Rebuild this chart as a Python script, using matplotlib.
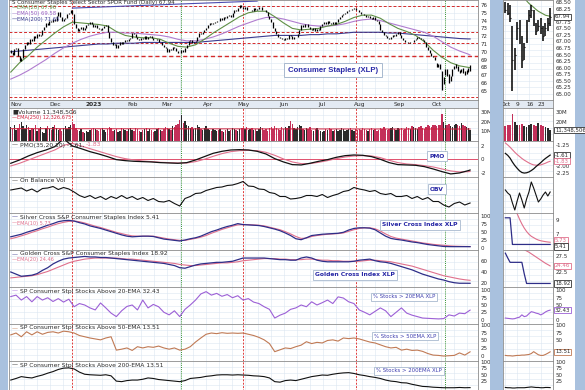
import numpy as np
import pandas as pd
import matplotlib
matplotlib.use('Agg')
import matplotlib.pyplot as plt
from matplotlib.patches import Rectangle

# ------------------------------------------------------------------ data
dates = pd.bdate_range('2022-10-27', '2023-10-27')   # trading-day axis

close_to_sep = [
    70.0, 69.6, 70.3, 70.5, 69.4, 68.8, 69.2, 70.4, 70.9, 71.2,
    71.0, 71.6, 71.4, 72.0, 71.8, 72.3, 72.0, 72.2, 72.8, 73.2,
    73.7, 73.4, 74.0, 73.8, 74.2, 74.0, 74.6, 75.1, 74.5, 74.0,
    74.2, 74.3, 74.8, 75.0, 75.4, 74.9, 73.6, 73.0, 72.7, 72.9,
    73.2, 72.8, 73.0, 73.4, 73.5, 73.8, 73.6, 73.2, 73.4, 73.0,
    72.9, 72.8, 73.1, 73.3, 73.4, 72.6, 71.8, 71.2, 70.9, 71.0,
    70.5, 70.9, 71.2, 71.0, 71.3, 71.5, 71.4, 71.6, 71.8, 72.4,
    72.3, 71.9, 71.6, 71.5, 71.8, 71.6, 72.0, 71.7, 71.9, 72.0,
    71.8, 71.5, 71.5, 71.7, 71.3, 71.3, 70.9, 70.6, 70.5, 70.0,
    70.3, 70.2, 70.6, 70.5, 70.1, 69.9, 69.8, 70.2, 70.0, 70.5,
    70.9, 71.4, 71.5, 71.1, 71.2, 71.4, 71.9, 72.4, 72.3, 72.6,
    72.8, 73.1, 73.4, 73.7, 73.5, 73.7, 73.8, 74.0, 73.9, 74.3,
    74.1, 74.4, 74.3, 74.6, 74.7, 74.5, 75.0, 75.4, 75.2, 75.6,
    76.0, 75.8, 75.5, 75.7, 75.3, 75.4, 75.4, 75.2, 75.6, 75.4,
    75.5, 75.7, 75.8, 75.4, 75.3, 75.1, 74.6, 74.2, 73.8, 73.0,
    72.7, 72.3, 71.9, 71.8, 71.6, 71.5, 71.8, 71.6, 72.2, 72.0,
    71.7, 71.9, 71.9, 72.3, 72.8, 73.4, 73.2, 73.5, 73.6, 73.2,
    72.9, 72.8, 73.0, 72.7, 72.9, 72.8, 73.3, 73.5, 73.8, 73.6,
    73.9, 73.7, 73.5, 73.8, 73.6, 73.8, 74.2, 74.4, 74.7, 74.9,
    75.0, 75.2, 75.4, 75.3, 75.5, 75.6, 75.4, 75.3, 75.1, 74.9,
    74.8, 74.7, 74.5, 74.6, 74.3, 74.2, 74.4, 74.1, 74.0, 73.5,
    72.8, 72.5, 72.2, 72.0, 71.8, 71.7, 71.9, 72.1, 72.0, 72.3,
    72.5, 72.2, 71.8, 71.5, 71.3, 71.2, 71.1, 71.3, 71.2, 71.5,
    71.7, 71.9, 71.8, 71.6, 71.5, 71.2, 70.6, 70.2, 69.8, 69.5,
    69.3, 69.0,
]
oct_close = [68.2, 68.1, 67.9, 66.3, 66.5, 67.5, 67.1, 66.3, 66.8, 67.6,
             68.0, 68.2, 67.8, 67.4, 67.6, 67.5, 67.2, 67.5, 67.7, 67.94]
oct_high = [68.5, 68.45, 68.4, 67.6, 66.75, 67.75, 67.8, 67.2, 66.95, 67.8,
            68.2, 68.4, 68.2, 67.7, 67.8, 67.9, 67.6, 67.7, 67.9, 68.27]
oct_low = [68.1, 68.0, 67.75, 65.1, 65.9, 67.05, 66.9, 66.0, 66.3, 66.95,
           67.75, 67.9, 67.6, 67.25, 67.4, 67.3, 67.0, 67.2, 67.4, 67.6]
close = close_to_sep + oct_close

# weekly samples (every 5 trading days, last point = last day)
ema20_w = [67.4, 68.6, 69.5, 70.6, 71.5, 72.4, 73.2, 73.8, 73.7, 73.6,
           73.5, 73.3, 72.6, 72.1, 71.9, 71.8, 71.8, 71.6, 71.1, 70.7,
           70.6, 70.9, 71.6, 72.4, 73.1, 73.8, 74.5, 75.0, 75.2, 75.2,
           74.5, 73.7, 73.0, 72.8, 72.9, 73.0, 73.3, 73.5, 73.9, 74.4,
           74.7, 74.7, 74.3, 73.6, 73.0, 72.6, 72.1, 71.3, 70.2, 69.3,
           68.6, 68.2, 68.0, 67.96]
ema50_w = [66.5, 67.0, 67.6, 68.3, 69.0, 69.8, 70.5, 71.1, 71.6, 72.0,
           72.3, 72.5, 72.5, 72.4, 72.4, 72.3, 72.2, 72.1, 71.9, 71.6,
           71.4, 71.4, 71.6, 71.9, 72.3, 72.8, 73.3, 73.7, 74.1, 74.4,
           74.4, 74.2, 73.9, 73.6, 73.4, 73.3, 73.3, 73.4, 73.6, 73.9,
           74.1, 74.2, 74.0, 73.7, 73.4, 73.1, 72.8, 72.5, 72.0, 71.3,
           70.6, 70.1, 69.7, 69.58]
ema200_w = [70.0, 70.1, 70.2, 70.3, 70.4, 70.5, 70.6, 70.7, 70.8, 70.9,
            71.0, 71.0, 71.1, 71.1, 71.1, 71.2, 71.2, 71.2, 71.2, 71.2,
            71.2, 71.2, 71.3, 71.4, 71.5, 71.6, 71.7, 71.8, 71.9, 72.0,
            72.1, 72.1, 72.1, 72.1, 72.2, 72.2, 72.3, 72.3, 72.4, 72.5,
            72.5, 72.5, 72.5, 72.4, 72.4, 72.3, 72.2, 72.1, 72.0, 71.9,
            71.8, 71.7, 71.65, 71.65]
oct_ema20 = [69.9, 69.7, 69.5, 69.3, 69.15, 69.0, 68.9, 68.8, 68.65, 68.55,
             68.45, 68.38, 68.3, 68.22, 68.15, 68.1, 68.05, 68.0, 67.98, 67.96]

price_levels = [75.9, 72.5, 71.1, 69.4, 64.25]
trend_x = [35, 140]
trend_y = [75.6, 76.5]

volume_m = [
    14, 12, 16, 11, 13, 18, 20, 15, 12, 17, 14, 11, 13, 12, 16, 10, 12, 14, 9, 8, 13, 15, 12, 11, 14,
    16, 13, 11, 12, 10, 13, 15, 12, 14, 17, 20, 18, 13, 11, 10, 12, 9, 8, 10, 9, 11, 12,
    13, 12, 11, 10, 12, 13, 11, 9, 12, 14, 13, 10, 11, 12, 9, 10, 13, 12, 11, 10, 12, 13,
    11, 10, 13, 12, 10, 9, 11, 12, 13, 10, 12, 11, 9, 10, 12, 13, 11, 10, 12, 14,
    13, 12, 11, 15, 14, 16, 18, 22, 27, 19, 21, 17, 15, 13, 14, 12, 13, 16, 14, 12, 11, 13, 15,
    12, 11, 10, 12, 11, 10, 11, 12, 10, 9, 11, 12, 10, 11, 13, 12, 11, 10, 12, 13,
    13, 12, 14, 11, 12, 13, 11, 12, 10, 12, 14, 13, 11, 12, 10, 13, 14, 12, 15, 13, 12, 11, 14,
    12, 14, 13, 15, 21, 18, 13, 12, 14, 16, 15, 12, 11, 13, 12, 14, 11, 10, 12, 13, 11, 10,
    9, 10, 12, 11, 13, 12, 10, 11, 12, 10, 11, 13, 12, 10, 11, 12, 13, 11, 10, 12, 11,
    12, 11, 13, 12, 11, 10, 12, 13, 11, 12, 10, 11, 13, 12, 14, 12, 11, 12, 13, 14, 12, 11, 13,
    12, 13, 11, 12, 14, 13, 12, 15, 14, 13, 12, 14, 15, 13, 12, 14, 16, 15, 14, 16, 17,
    15, 17, 16, 28, 20, 17, 16, 18, 15, 14, 17, 18, 16, 15, 19, 17, 15, 14, 13, 11.35,
]
vol_ema_x = [0, 65, 130, 195, 261]
vol_ema_m = [12.7, 12.6, 12.5, 12.4, 12.33]

pmo_w = [-0.6, -0.1, 0.5, 1.0, 1.4, 1.9, 3.1, 2.0, 1.6, 1.15,
         0.8, 0.4, -0.05, -0.2, -0.3, -0.35, -0.4, -0.5, -0.55, -0.6,
         -0.5, -0.1, 0.4, 0.9, 1.2, 1.4, 1.45, 1.4, 1.2, 0.8,
         0.1, -0.4, -0.8, -0.85, -0.6, -0.3, -0.05, 0.3, 0.55, 0.65,
         0.6, 0.4, 0.0, -0.5, -0.8, -0.85, -0.9, -1.1, -1.45, -1.85,
         -2.2, -2.05, -1.7, -1.61]
pmo_sig_w = [-1.0, -0.6, -0.1, 0.4, 0.9, 1.4, 2.1, 2.4, 2.0, 1.6,
             1.2, 0.8, 0.4, 0.1, -0.1, -0.25, -0.35, -0.45, -0.5, -0.55,
             -0.55, -0.35, 0.0, 0.45, 0.85, 1.15, 1.3, 1.35, 1.3, 1.05,
             0.6, 0.05, -0.4, -0.65, -0.65, -0.45, -0.2, 0.1, 0.35, 0.5,
             0.55, 0.5, 0.25, -0.15, -0.5, -0.7, -0.8, -0.95, -1.15, -1.45,
             -1.75, -1.9, -1.86, -1.83]
oct_pmo = [-1.55, -1.62, -1.72, -1.86, -1.98, -2.08, -2.17, -2.23, -2.25, -2.24,
           -2.21, -2.16, -2.10, -2.02, -1.95, -1.88, -1.80, -1.73, -1.67, -1.61]
oct_pmo_sig = [-1.18, -1.25, -1.33, -1.42, -1.51, -1.59, -1.66, -1.73, -1.79, -1.84,
               -1.89, -1.93, -1.96, -1.97, -1.97, -1.96, -1.93, -1.90, -1.86, -1.83]

# every 3 trading days
obv_3 = [150, 160, 170, 140, 160, 130, 165, 170, 185, 155,
         175, 160, 130, 95, 75, 95, 65, 85, 55, 85,
         65, 95, 65, 85, 55, 75, 45, 65, 35, 30,
         45, 15, -10, 65, 85, 115, 120, 145, 160, 175,
         180, 195, 200, 215, 235, 190, 185, 160, 155, 125,
         115, 85, 85, 60, 65, 75, 95, 95, 85, 105,
         75, 95, 110, 135, 145, 175, 160, 150, 135, 145,
         115, 105, 115, 85, 85, 95, 65, 85, 55, 75,
         35, 35, 0, -20, 15, 30, 0, 20]
oct_obv = [150, 120, 100, 20, -50, 40, 120, 50, -30, 60,
           130, 230, 170, 100, 30, 60, 100, 130, 90, 130]

silver_3 = [36, 40, 44, 50, 55, 60, 66, 72, 77, 83,
            86, 87, 85, 80, 76, 70, 66, 62, 57, 52,
            47, 42, 38, 36, 37, 38, 38, 37, 33, 29,
            27, 25, 23, 26, 30, 33, 38, 45, 52, 57,
            63, 68, 72, 77, 74, 73, 72, 71, 68, 64,
            60, 55, 48, 40, 30, 27, 33, 40, 42, 44,
            45, 46, 47, 50, 57, 62, 64, 64, 63, 58,
            48, 38, 31, 28, 26, 23, 20, 18, 15, 12,
            10, 8, 6, 5.5, 5.4, 5.4, 5.4, 5.41]
silver_ema_3 = [30, 34, 39, 44, 50, 55, 61, 66, 72, 77,
                81, 84, 85, 83, 79, 74, 69, 65, 60, 55,
                50, 46, 42, 39, 38, 38, 38, 38, 35, 32,
                29, 27, 25, 25, 28, 31, 35, 40, 47, 53,
                59, 64, 69, 73, 74, 74, 73, 72, 70, 66,
                62, 58, 52, 45, 37, 31, 32, 37, 40, 42,
                44, 45, 46, 48, 53, 58, 62, 64, 64, 61,
                54, 45, 37, 32, 29, 26, 23, 20, 17, 15,
                12.5, 11, 9.5, 8, 7, 6.4, 6.0, 5.73]
oct_silver = [9.3, 9.3, 9.3, 5.41, 5.41, 5.41, 5.41, 5.41, 5.41, 5.41,
              5.41, 5.41, 5.41, 5.41, 5.41, 5.41, 5.41, 5.41, 5.41, 5.41]
oct_silver_ema = [13.0, 12.4, 11.8, 11.0, 10.4, 9.9, 9.1, 8.4, 7.8, 7.3,
                  6.9, 6.6, 6.4, 6.2, 6.05, 5.95, 5.88, 5.82, 5.77, 5.73]

golden_3 = [40, 36, 32, 33, 34, 37, 43, 48, 55, 60,
            64, 66, 67, 68, 69, 68, 68, 67, 67, 66,
            65, 64, 63, 62, 61, 60, 59, 58, 57, 56,
            54, 52, 48, 47, 50, 53, 55, 56, 57, 58,
            58, 59, 60, 63, 66, 66, 66, 66, 66, 65,
            64, 63, 63, 62, 62, 66, 68, 66, 62, 60,
            59, 59, 59, 59, 59, 60, 62, 63, 64, 61,
            59, 58, 56, 53, 50, 47, 44, 40, 36, 33,
            30, 27, 25, 22, 20, 19, 19, 18.92]
golden_ema_3 = [29, 30, 31, 32, 33, 35, 38, 41, 45, 49,
                53, 57, 60, 62, 64, 65, 66, 66, 66, 66,
                66, 65, 64, 64, 63, 62, 61, 60, 59, 58,
                57, 56, 54, 53, 52, 52, 53, 54, 55, 56,
                57, 57, 58, 59, 61, 62, 63, 64, 65, 65,
                65, 64, 64, 63, 63, 63, 64, 64, 63, 62,
                62, 61, 61, 60, 60, 60, 60, 61, 62, 62,
                61, 60, 59, 57, 55, 53, 51, 48, 45, 42,
                39, 36, 33, 31, 29, 27, 25.5, 24.46]
oct_golden = [28.5, 27.0, 25.6, 25.6, 25.6, 25.6, 25.6, 25.6, 22.0, 18.92,
              18.92, 18.92, 18.92, 18.92, 18.92, 18.92, 18.92, 18.92, 18.92, 18.92]
oct_golden_ema = [34.0, 33.4, 32.8, 32.2, 31.6, 31.0, 30.5, 30.0, 29.6, 29.2,
                  28.8, 28.3, 27.8, 27.3, 26.8, 26.3, 25.8, 25.3, 24.9, 24.46]

pct20_3 = [79, 84, 67, 79, 61, 79, 67, 75, 62, 72,
           60, 70, 44, 55, 50, 40, 33, 57, 40, 22,
           10, 30, 45, 50, 33, 67, 40, 52, 44, 25,
           16, 30, 10, 35, 50, 67, 88, 96, 84, 90,
           80, 86, 75, 82, 67, 72, 60, 55, 44, 35,
           5, 15, 22, 35, 40, 50, 44, 61, 50, 58,
           67, 55, 78, 74, 61, 55, 33, 25, 16, 28,
           40, 30, 10, 25, 40, 22, 15, 10, 5, 4,
           3, 2, 3, 16, 12, 22, 20, 32.43]
oct_pct20 = [5, 4, 3, 2, 3, 6, 8, 16, 10, 12, 20, 27, 25, 22, 20, 16, 20, 26, 30, 32.43]

pct50_3 = [68, 74, 62, 78, 68, 78, 70, 76, 78, 74,
           80, 78, 74, 66, 62, 58, 55, 52, 58, 62,
           19, 22, 26, 18, 30, 26, 30, 28, 32, 26,
           22, 26, 19, 22, 30, 45, 58, 70, 74, 72,
           75, 73, 74, 73, 74, 70, 66, 60, 52, 40,
           14, 20, 26, 24, 30, 35, 46, 40, 44, 42,
           50, 52, 48, 58, 56, 58, 55, 50, 45, 42,
           36, 30, 26, 28, 19, 22, 18, 19, 15, 8,
           3, 2, 0, 1, 2, 10, 3, 13.51]
oct_pct50 = [2, 1, 1, 0, 1, 2, 2, 3, 3, 4, 5, 8, 14, 9, 4, 2, 2, 5, 9, 13.51]

pct200_3 = [30, 36, 43, 40, 38, 44, 49, 56, 62, 70,
            75, 76, 72, 60, 52, 50, 49, 48, 50, 46,
            26, 24, 28, 30, 30, 33, 38, 36, 32, 30,
            28, 26, 24, 28, 36, 38, 40, 44, 46, 49,
            50, 50, 49, 50, 49, 48, 46, 45, 43, 38,
            24, 22, 28, 30, 28, 33, 38, 43, 46, 49,
            48, 52, 55, 57, 58, 55, 50, 47, 43, 40,
            36, 30, 26, 24, 20, 19, 14, 10, 6, 5,
            3, 2, 1, 1, 1, 2, 1, 1.5]
oct_pct200 = [2, 1, 1, 0, 0, 1, 1, 1, 1, 2, 3, 4, 3, 2, 2, 1, 1, 2, 2, 1.5]

month_labels = ['Nov', 'Dec', '2023', 'Feb', 'Mar', 'Apr', 'May', 'Jun', 'Jul', 'Aug', 'Sep', 'Oct']
oct_day_labels = ['Oct', '9', '16', '23']
oct_day_pos = [0, 5, 10, 15]
event_red = [35, 132, 196]
event_green = [97, 247]

# ------------------------------------------------------------------ layout
W, H = 585, 390
fig = plt.figure(figsize=(W / 100, H / 100), dpi=100)
fig.patch.set_facecolor('white')
renderer = fig.canvas.get_renderer()

def fax(x0, y0, x1, y1):
    return fig.add_axes([x0 / W, 1 - y1 / H, (x1 - x0) / W, (y1 - y0) / H])

def ftext(x, y, s, **kw):
    return fig.text(x / W, 1 - y / H, s, **kw)

BLUE = '#a9c1de'
for (x0, x1) in [(0, 8), (490, 503), (575, 585)]:
    fig.patches.append(Rectangle((x0 / W, 0), (x1 - x0) / W, 1, transform=fig.transFigure,
                                 facecolor=BLUE, edgecolor='none', zorder=0))

N = len(close)
XL = (-1.0, N + 3.5)
XS = (-1.0, 20.2)
MX = (9, 478)
SX = (503, 553)
GRID = '#dce6f1'
TXT = '#2b2b2b'
PINK = '#e0708c'
NAVY = '#2e2e88'

idx = np.arange(N)
ser = pd.Series(np.arange(len(dates)), index=dates)
month_first = ser.groupby([dates.year, dates.month]).first().values[1:]
week_grid = np.arange(0, N + 3, 7.4)

def style(ax, xlim, ylim, ticks, labels, y0, y1, vgrid):
    ax.set_xlim(xlim)
    ax.set_ylim(ylim)
    ax.set_facecolor('white')
    for s in ax.spines.values():
        s.set_color('#8c8c8c')
        s.set_linewidth(0.6)
    ax.set_xticks([])
    ax.yaxis.tick_right()
    ax.set_yticks(ticks)
    ax.set_yticklabels(labels)
    ax.tick_params(axis='y', length=0, labelsize=4, pad=2, colors=TXT)
    n = max(int((y1 - y0) / 6), 2)
    for yy in np.linspace(ylim[0], ylim[1], n + 1)[1:-1]:
        ax.axhline(yy, color=GRID, lw=0.4, zorder=0)
    for xx in vgrid:
        ax.axvline(xx, color=GRID, lw=0.4, zorder=0)

def row(y0, y1, ylim, ticks, labels, sylim=None, sticks=(), slabels=()):
    a = fax(MX[0], y0, MX[1], y1)
    b = fax(SX[0], y0, SX[1], y1)
    style(a, XL, ylim, ticks, labels, y0, y1, week_grid)
    style(b, XS, sylim if sylim else ylim, list(sticks), list(slabels), y0, y1, oct_day_pos)
    for e in event_red:
        a.axvline(e, color='#e03a3a', lw=0.7, ls=(0, (2, 1.5)), zorder=1)
    for e in event_green:
        a.axvline(e, color='#2f8f2f', lw=0.7, ls=(0, (1, 1.2)), zorder=1)
    return a, b

def segs(x, y, parts, size=4.3, weight='normal'):
    for s, c in parts:
        t = ftext(x, y, s, color=c, fontsize=size, va='center', ha='left', weight=weight)
        x += t.get_window_extent(renderer).width

def vbox(x, y, s, ec, fc='white', tc=TXT):
    ftext(x, y, s, fontsize=3.9, color=tc, va='center', ha='left',
          bbox=dict(boxstyle='square,pad=0.12', fc=fc, ec=ec, lw=0.6))

def note(x, y, s, color='#2525a5', weight='bold', size=4.3):
    ftext(x, y, s, fontsize=size, color=color, va='center', ha='center', weight=weight,
          bbox=dict(boxstyle='square,pad=0.35', fc='white', ec='#a8b9cf', lw=0.6))

xw = np.minimum(np.arange(len(ema20_w)) * 5, N - 1)
x3 = np.arange(len(obv_3)) * 3
xo = np.arange(len(oct_close))

# ---------------------------------------------------------------- price
small_price_ticks = [v for v in np.arange(65.0, 68.51, 0.25) if abs(v - 68.0) > 0.01]
pa, pb = row(0, 100, (63.82, 76.64), list(range(65, 77)), [str(v) for v in range(65, 77)],
             (64.77, 68.58), small_price_ticks, ['%.2f' % v for v in small_price_ticks])
for lv in price_levels:
    pa.axhline(lv, color='#d42a2a', lw=1.0 if lv == 69.4 else 0.7, ls=(0, (3, 2)), zorder=1)
pa.plot(trend_x, trend_y, color='#4a4ab0', lw=0.8, zorder=2)
pa.plot(xw, ema200_w, color='#3b3b8f', lw=0.8, zorder=2)
pa.plot(xw, ema50_w, color='#b07ccf', lw=0.8, zorder=2)
pa.plot(xw, ema20_w, color='#5f8f45', lw=0.8, zorder=2)
nO = len(oct_close)
lo = [min(close[i - 1] if i > 0 else close[i] - 0.2, close[i]) for i in range(N - nO)] + oct_low
hi = [max(close[i - 1] if i > 0 else close[i] + 0.2, close[i]) for i in range(N - nO)] + oct_high
pa.vlines(idx, lo, hi, color='black', lw=0.9, zorder=3)
pb.plot(xo, oct_ema20, color='#5f8f45', lw=0.8, zorder=2)
pb.vlines(xo, oct_low, oct_high, color='black', lw=1.1, zorder=3)
pb.hlines(oct_close, xo, xo + 0.35, color='black', lw=0.8, zorder=3)
vbox(555, 100 - (oct_close[-1] - 64.77) / (68.58 - 64.77) * 100, '%.2f' % oct_close[-1], '#333333')

ftext(12, 2.6, 'S Consumer Staples Select Sector SPDR Fund (Daily) %.2f' % oct_close[-1],
      fontsize=4.0, color=TXT, va='center')
segs(12, 8, [('\u2014', '#5f8f45'), ('EMA(20) %.2f' % ema20_w[-1], '#5f8f45')], size=3.8)
segs(12, 13.5, [('\u2014', '#b07ccf'), ('EMA(50) %.2f' % ema50_w[-1], '#9a5cbf')], size=3.8)
segs(12, 19, [('\u2014', '#3b3b8f'), ('EMA(200) %.2f' % ema200_w[-1], '#3b3b8f')], size=3.8)
ftext(333, 70, 'Consumer Staples (XLP)', fontsize=5.6, color='#2a2aa8', weight='bold',
      va='center', ha='center', family='Liberation Sans',
      bbox=dict(boxstyle='square,pad=0.45', fc='white', ec='#a8b9cf', lw=0.7))

# ---------------------------------------------------------------- date row
da = fax(MX[0], 100, MX[1], 108)
db = fax(SX[0], 100, SX[1], 108)
for ax, xl in ((da, XL), (db, XS)):
    ax.set_xlim(xl); ax.set_ylim(0, 1)
    ax.set_facecolor('#e3eaf3')
    ax.set_xticks([]); ax.set_yticks([])
    for s in ax.spines.values():
        s.set_color('#8c8c8c'); s.set_linewidth(0.6)
for m, lab in zip(month_first, month_labels):
    da.text(m, 0.45, lab, fontsize=4.2, color=TXT, ha='center', va='center',
            weight='bold' if lab == '2023' else 'normal')
for p, lab in zip(oct_day_pos, oct_day_labels):
    db.text(p + 0.3, 0.45, lab, fontsize=4.2, color=TXT, ha='center', va='center')

# ---------------------------------------------------------------- volume
va, vb = row(108, 141, (0, 34), [10, 20, 30], ['10M', '20M', '30M'],
             (0, 34), [20, 30], ['20M', '30M'])
up = [True] + [close[i] >= close[i - 1] for i in range(1, N)]
vcol = ['#2b2b2b' if u else '#c4305a' for u in up]
va.bar(idx, volume_m, width=0.8, color=vcol, linewidth=0, zorder=2)
vb.bar(xo, volume_m[-nO:], width=0.75, color=vcol[-nO:], linewidth=0, zorder=2)
va.plot(vol_ema_x, vol_ema_m, color='#d0203c', lw=0.7, zorder=3)
segs(12, 112, [('\u25a0', TXT), ('Volume 11,348,506', TXT)])
segs(12, 118, [('\u2014', '#d0203c'), ('EMA(250) 12,326,675', '#d0203c')], size=3.6)
vbox(555, 141 - volume_m[-1] / 34 * 33, '11,348,506', '#333333')

# ---------------------------------------------------------------- PMO
ma, mb = row(141, 177, (-2.66, 2.75), [-2, 0, 2], ['-2', '0', '2'],
             (-2.39, -1.11), [-2.25, -2.0, -1.25], ['-2.25', '-2.00', '-1.25'])
ma.axhline(0, color='#e0506e', lw=0.7, zorder=1)
ma.plot(xw, pmo_sig_w, color=PINK, lw=0.8, zorder=2)
ma.plot(xw, pmo_w, color='#111111', lw=0.9, zorder=3)
mb.plot(xo, oct_pmo_sig, color=PINK, lw=0.8, zorder=2)
mb.plot(xo, oct_pmo, color='#111111', lw=0.9, zorder=3)
segs(12, 145, [('\u2014 ', TXT), ('PMO(35,20,10) %.2f, ' % pmo_w[-1], TXT), ('%.2f' % pmo_sig_w[-1], PINK)])
vbox(555, 141 + (-1.11 - oct_pmo[-1]) / 1.28 * 36, '%.2f' % oct_pmo[-1], '#333333')
vbox(555, 141 + (-1.11 - oct_pmo_sig[-1]) / 1.28 * 36, '%.2f' % oct_pmo_sig[-1], PINK, tc=PINK)
note(437, 156, 'PMO')

# ---------------------------------------------------------------- OBV
oa, ob = row(177, 213, (-80, 280), [], [], (-80, 280))
oa.plot(x3, obv_3, color='#111111', lw=0.8, zorder=3)
ob.plot(xo, oct_obv, color='#111111', lw=0.8, zorder=3)
segs(12, 181, [('\u2014 ', TXT), ('On Balance Vol', TXT)])
note(437, 189, 'OBV')

# ---------------------------------------------------------------- Silver cross
sa, sb = row(213, 250, (-5, 110), [0, 25, 50, 75, 100], ['0', '25', '50', '75', '100'],
             (4.6, 10.0), [7, 9], ['7', '9'])
sa.plot(x3, silver_ema_3, color=PINK, lw=0.8, zorder=2)
sa.plot(x3, silver_3, color=NAVY, lw=0.9, zorder=3)
sb.plot(xo, oct_silver_ema, color=PINK, lw=0.8, zorder=2)
sb.plot(xo, oct_silver, color=NAVY, lw=0.9, zorder=3)
segs(12, 217, [('\u2014 ', NAVY), ('Silver Cross S&P Consumer Staples Index %.2f' % silver_3[-1], TXT)])
segs(12, 223, [('\u2014', PINK), ('EMA(10) %.2f' % silver_ema_3[-1], PINK)], size=3.6)
vbox(555, 213 + (10.0 - oct_silver_ema[-1]) / 5.4 * 37 - 2, '%.2f' % oct_silver_ema[-1], PINK, tc=PINK)
vbox(555, 213 + (10.0 - oct_silver[-1]) / 5.4 * 37 + 2, '%.2f' % oct_silver[-1], '#333333')
note(420, 225, 'Silver Cross Index XLP')

# ---------------------------------------------------------------- Golden cross
ga, gb = row(250, 287, (12, 81), [20, 40, 60], ['20', '40', '60'],
             (17.8, 29.5), [22.5, 27.5], ['22.5', '27.5'])
ga.plot(x3, golden_ema_3, color=PINK, lw=0.8, zorder=2)
ga.plot(x3, golden_3, color=NAVY, lw=0.9, zorder=3)
gb.plot(xo, oct_golden_ema, color=PINK, lw=0.8, zorder=2)
gb.plot(xo, oct_golden, color=NAVY, lw=0.9, zorder=3)
segs(12, 254, [('\u2014 ', NAVY), ('Golden Cross S&P Consumer Staples Index %.2f' % golden_3[-1], TXT)])
segs(12, 260, [('\u2014', PINK), ('EMA(20) %.2f' % golden_ema_3[-1], PINK)], size=3.6)
vbox(555, 250 + (29.5 - oct_golden_ema[-1]) / 11.7 * 37, '%.2f' % oct_golden_ema[-1], PINK, tc=PINK)
vbox(555, 250 + (29.5 - oct_golden[-1]) / 11.7 * 37, '%.2f' % oct_golden[-1], '#333333')
note(355, 275, 'Golden Cross Index XLP')

# ---------------------------------------------------------------- % above EMAs
pct_ticks = [0, 25, 50, 75, 100]
pct_labels = ['0', '25', '50', '75', '100']
p20a, p20b = row(287, 324, (-15.5, 112), pct_ticks, pct_labels, (-15.5, 112),
                 [0, 50, 75, 100], ['0', '50', '75', '100'])
p20a.plot(x3, pct20_3, color='#9c60d6', lw=0.8, zorder=3)
p20b.plot(xo, oct_pct20, color='#9c60d6', lw=0.8, zorder=3)
segs(12, 291, [('\u2014 ', '#9c60d6'), ('SP Consumer Stpl Stocks Above 20-EMA %.2f' % pct20_3[-1], TXT)])
vbox(555, 287 + (112 - oct_pct20[-1]) / 127.5 * 37, '%.2f' % oct_pct20[-1], '#9c60d6')
note(404, 297, '% Stocks > 20EMA XLP', color='#4040b0', weight='normal', size=3.9)

p50a, p50b = row(324, 361, (-16, 103), pct_ticks, pct_labels, (-16, 103),
                 [50, 75, 100], ['50', '75', '100'])
p50a.plot(x3, pct50_3, color='#c07a55', lw=0.8, zorder=3)
p50b.plot(xo, oct_pct50, color='#c07a55', lw=0.8, zorder=3)
segs(12, 328, [('\u2014 ', '#c07a55'), ('SP Consumer Stpl Stocks Above 50-EMA %.2f' % pct50_3[-1], TXT)])
vbox(555, 324 + (103 - oct_pct50[-1]) / 119 * 37, '%.2f' % oct_pct50[-1], '#c07a55')
note(405, 336, '% Stocks > 50EMA XLP', color='#4040b0', weight='normal', size=3.9)

p2a, p2b = row(361, 397, (-34, 102), pct_ticks[1:], pct_labels[1:], (-34, 102), pct_ticks[1:], pct_labels[1:])
p2a.plot(x3, pct200_3, color='#111111', lw=0.8, zorder=3)
p2b.plot(xo, oct_pct200, color='#111111', lw=0.8, zorder=3)
segs(12, 365, [('\u2014 ', '#111111'), ('SP Consumer Stpl Stocks Above 200-EMA %.2f' % pct50_3[-1], TXT)])
note(409, 371, '% Stocks > 200EMA XLP', color='#4040b0', weight='normal', size=3.9)

fig.savefig('out.png', dpi=100, facecolor=fig.get_facecolor())
